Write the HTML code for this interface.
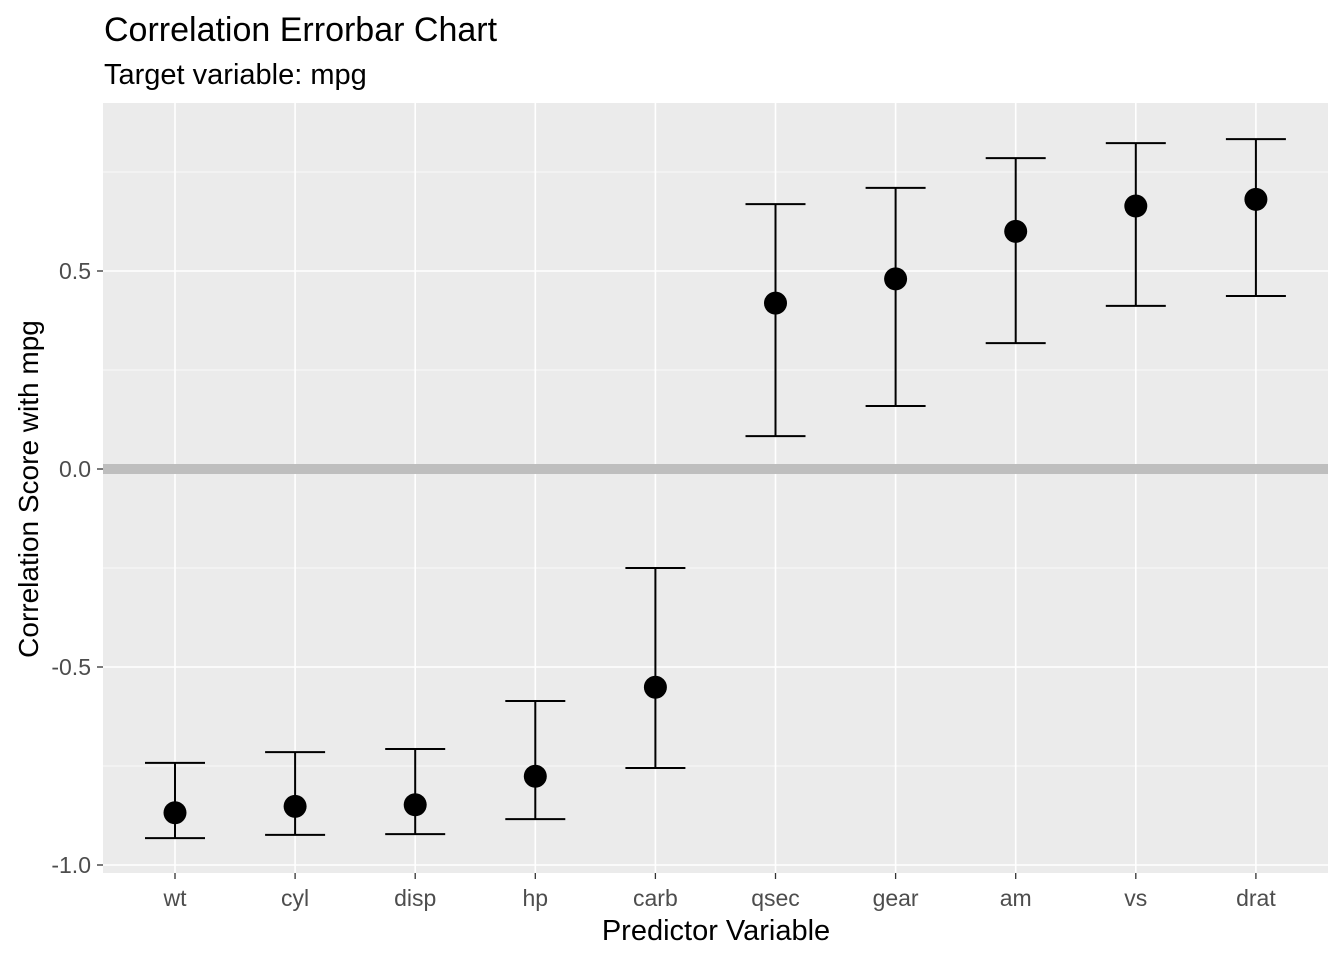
<!DOCTYPE html>
<html><head><meta charset="utf-8"><style>
body{margin:0;background:#fff;}
svg{display:block;font-family:"Liberation Sans",Arial,sans-serif;}
</style></head><body>
<svg id="chart" width="1344" height="960">
<text x="104" y="41" font-size="34" fill="#000">Correlation Errorbar Chart</text>
<text x="104" y="84" font-size="29" fill="#000">Target variable: mpg</text>
<rect x="103" y="103" width="1225" height="770" fill="#EBEBEB"/>
<g id="grid"></g>
<g id="marks"></g>
<g id="axes"></g>
<text x="716" y="940" font-size="29" text-anchor="middle" fill="#000">Predictor Variable</text>
<text transform="translate(38,489) rotate(-90)" font-size="28" text-anchor="middle" fill="#000">Correlation Score with mpg</text>
</svg>
<script>
const categories=["wt","cyl","disp","hp","carb","qsec","gear","am","vs","drat"];
const estimates=[-0.868,-0.852,-0.848,-0.776,-0.551,0.419,0.480,0.600,0.664,0.681];
const lowers=[-0.932,-0.924,-0.922,-0.884,-0.755,0.083,0.159,0.318,0.412,0.437];
const uppers=[-0.742,-0.715,-0.707,-0.586,-0.250,0.669,0.710,0.785,0.823,0.833];
const yTicks=[-1.0,-0.5,0.0,0.5];
const yTickLabels=["-1.0","-0.5","0.0","0.5"];
const yMinor=[-0.75,-0.25,0.25,0.75];
const NS="http://www.w3.org/2000/svg";
const y=v=>469-396*v;
const x=i=>175+i*120.1;
function mk(tag,attrs,parent){const e=document.createElementNS(NS,tag);for(const k in attrs)e.setAttribute(k,attrs[k]);document.getElementById(parent).appendChild(e);return e;}
yMinor.forEach(v=>{const l=mk('line',{x1:103,x2:1328,y1:y(v),y2:y(v),stroke:'#fff','stroke-width':0.8},'grid');

});
yTicks.forEach((v,i)=>{const l=mk('line',{x1:103,x2:1328,y1:y(v),y2:y(v),stroke:'#fff','stroke-width':1.6},'grid');


const t=mk('line',{x1:97,x2:103,y1:y(v),y2:y(v),stroke:'#333','stroke-width':1.3},'axes');


const tx=mk('text',{x:91,y:y(v)+8,'font-size':23,'text-anchor':'end',fill:'#4D4D4D'},'axes');tx.textContent=yTickLabels[i];

});
categories.forEach((c,i)=>{const l=mk('line',{x1:x(i),x2:x(i),y1:103,y2:873,stroke:'#fff','stroke-width':1.6},'grid');


const t=mk('line',{x1:x(i),x2:x(i),y1:873,y2:879,stroke:'#333','stroke-width':1.3},'axes');


const tx=mk('text',{x:x(i),y:906,'font-size':23,'text-anchor':'middle',fill:'#4D4D4D'},'axes');tx.textContent=c;

});
const z=mk('line',{x1:103,x2:1328,y1:y(0),y2:y(0),stroke:'#BEBEBE','stroke-width':10},'marks');


categories.forEach((c,i)=>{const g=mk('g',{},'marks');


const p=`M${x(i)-30},${y(uppers[i])}H${x(i)+30}M${x(i)},${y(uppers[i])}V${y(lowers[i])}M${x(i)-30},${y(lowers[i])}H${x(i)+30}`;
const e=document.createElementNS(NS,'path');e.setAttribute('d',p);e.setAttribute('stroke','#000');e.setAttribute('stroke-width','2');e.setAttribute('fill','none');g.appendChild(e);
const pt=mk('circle',{cx:x(i),cy:y(estimates[i]),r:11.5,fill:'#000'},'marks');

});
</script>
</body></html>
